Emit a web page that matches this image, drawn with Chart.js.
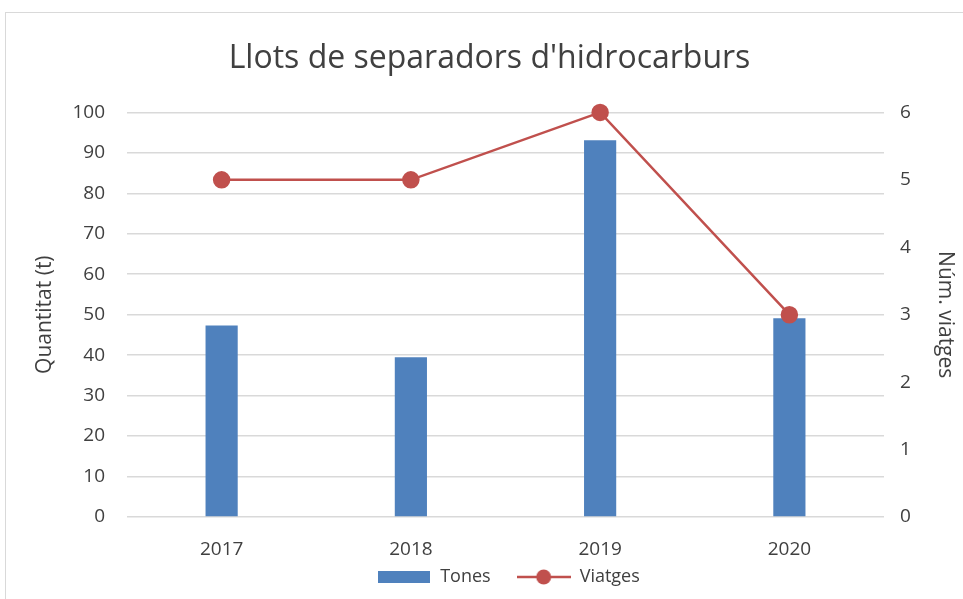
<!DOCTYPE html>
<html>
<head>
<meta charset="utf-8">
<script src="https://cdn.jsdelivr.net/npm/chart.js@4"></script>
<style>
  html, body { margin: 0; padding: 0; background: #fff; overflow: hidden; }
  #wrap { position: relative; width: 963px; height: 599px; }
  #frame { position: absolute; left: 5px; top: 12px; width: 970px; height: 600px; border: 1px solid #d9d9d9; }
  canvas { position: absolute; left: 0; top: 0; }
</style>
</head>
<body>
<div id="wrap">
  <div id="frame"></div>
  <canvas id="chart" width="963" height="599"></canvas>
</div>
<script>
const years = ['2017', '2018', '2019', '2020']
const tones = [47.3, 39.5, 93.1, 49.1]
const viatges = [5, 5, 6, 3]

const barColor = '#4F81BD'
const lineColor = '#C0504D'

const font = "'Open Sans', 'Liberation Sans', sans-serif"
Chart.defaults.font.family = font
Chart.defaults.color = '#404040'

// legend symbols
function barSymbol() {
  const c = document.createElement('canvas')
  c.width = 52
  c.height = 12
  const ctx = c.getContext('2d')
  ctx.fillStyle = barColor
  ctx.fillRect(0, 0, 52, 12)
  return c
}
function lineSymbol() {
  const c = document.createElement('canvas')
  c.width = 54
  c.height = 18
  const ctx = c.getContext('2d')
  ctx.strokeStyle = lineColor
  ctx.lineWidth = 2.5
  ctx.beginPath()
  ctx.moveTo(0, 9)
  ctx.lineTo(54, 9)
  ctx.stroke()
  ctx.fillStyle = lineColor
  ctx.beginPath()
  ctx.arc(27, 9, 7.5, 0, Math.PI * 2)
  ctx.fill()
  return c
}
const symbols = { Tones: barSymbol(), Viatges: lineSymbol() }

// the wide legend padding is only wanted between items, not above them:
// shrink the legend box and move title/legend a bit right, like the original
const LEGEND_EXTRA = 16
const nudge = {
  id: 'nudge',
  beforeLayout(chart) {
    const lg = chart.legend
    if (lg && !lg._shrunk) {
      const fit = lg.fit.bind(lg)
      lg.fit = function () {
        fit()
        this.height -= LEGEND_EXTRA
      }
      lg._shrunk = true
    }
  },
  afterLayout(chart) {
    chart.titleBlock.left += 8
    chart.titleBlock.right += 8
    chart.legend.left += 27
    chart.legend.right += 27
    chart.legend.top -= LEGEND_EXTRA
  },
}

const chart = new Chart(document.getElementById('chart'), {
  data: {
    labels: years,
    datasets: [
      {
        type: 'line',
        label: 'Viatges',
        data: viatges,
        yAxisID: 'y1',
        borderColor: lineColor,
        backgroundColor: lineColor,
        borderWidth: 2.5,
        pointRadius: 7.5,
        pointHoverRadius: 7.5,
        tension: 0,
        fill: false,
        clip: false,
        order: 1,
      },
      {
        type: 'bar',
        label: 'Tones',
        data: tones,
        yAxisID: 'y',
        backgroundColor: barColor,
        barPercentage: 0.34,
        categoryPercentage: 0.5,
        order: 2,
      },
    ],
  },
  plugins: [nudge],
  options: {
    responsive: false,
    animation: false,
    layout: { padding: { top: 0, left: 0, right: 0, bottom: 3 } },
    plugins: {
      title: {
        display: true,
        text: "Llots de separadors d'hidrocarburs",
        font: { size: 32, weight: 'normal' },
        color: '#404040',
        padding: { top: 40, bottom: 34 },
      },
      legend: {
        position: 'bottom',
        reverse: true,
        labels: {
          font: { size: 18 },
          color: '#404040',
          usePointStyle: true,
          pointStyleWidth: 54,
          boxHeight: 18,
          padding: 26,
          generateLabels: (c) => {
            const items = Chart.defaults.plugins.legend.labels.generateLabels(c)
            items.forEach((it) => { it.pointStyle = symbols[it.text] })
            return items
          },
        },
      },
      tooltip: { enabled: false },
    },
    scales: {
      x: {
        grid: { display: false },
        border: { display: false },
        ticks: { font: { size: 19 }, color: '#404040', padding: 13 },
        afterFit: (s) => { s.height = 41 },
      },
      y: {
        position: 'left',
        min: 0,
        max: 100,
        ticks: { stepSize: 10, font: { size: 19 }, color: '#404040', padding: 22 },
        grid: { color: '#d9d9d9', lineWidth: 1.5, drawTicks: false },
        border: { display: false },
        title: { display: true, text: 'Quantitat (t)', font: { size: 21 }, color: '#404040', padding: { top: 32, bottom: 0 } },
        afterFit: (s) => { s.width = 127 },
      },
      y1: {
        position: 'right',
        min: 0,
        max: 6,
        ticks: { stepSize: 1, font: { size: 19 }, color: '#404040', padding: 16 },
        grid: { display: false, drawTicks: false },
        border: { display: false },
        title: { display: true, text: 'Núm. viatges', font: { size: 21 }, color: '#404040', padding: { top: 5, bottom: 0 } },
        afterFit: (s) => { s.width = 79 },
      },
    },
  },
})
</script>
</body>
</html>
